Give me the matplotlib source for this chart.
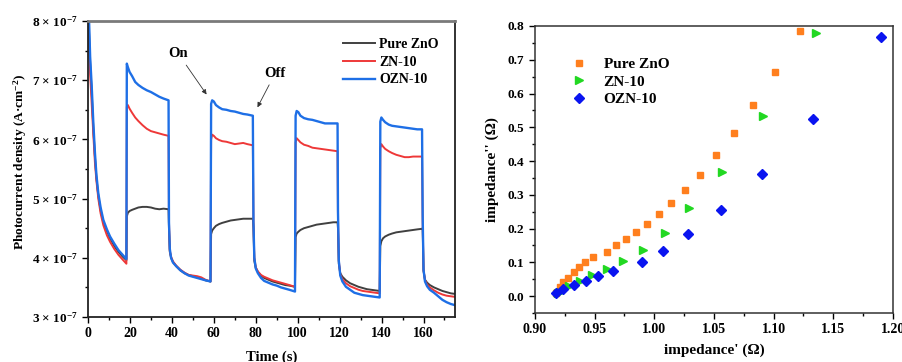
import numpy as np
import matplotlib
matplotlib.use("Agg")
import matplotlib.pyplot as plt
from matplotlib.ticker import MultipleLocator, FixedLocator

plt.rcParams['font.family'] = ['Liberation Serif', 'DejaVu Serif']
plt.rcParams['font.weight'] = 'bold'
plt.rcParams['mathtext.fontset'] = 'custom'
plt.rcParams['mathtext.rm'] = 'Liberation Serif'
plt.rcParams['mathtext.it'] = 'Liberation Serif:italic'
plt.rcParams['mathtext.bf'] = 'Liberation Serif:bold'

# ---- photocurrent (left), values in 1e-7 A/cm2 ----
time_s = [0, 0.5, 1, 1.75, 2.5, 3.3, 4, 4.9, 6, 7.3, 9, 10.5, 12.5, 14.5, 16.5, 18.3,
          18.5, 19.0, 19.8, 21, 22.5, 24, 26, 28, 30, 32, 34, 36, 38.4,
          38.6, 39.0, 39.6, 40.5, 42, 44, 46, 48, 50, 52, 54, 56, 58.4,
          58.7, 59.2, 60, 61, 62.5, 64, 66, 68, 70, 72, 74, 76, 78.6,
          78.9, 79.3, 80, 81, 82.5, 84, 86, 88, 90, 92, 94, 96, 98.7,
          99.0, 99.5, 100.3, 101.3, 103, 105, 107, 109, 111, 113, 115, 117, 119.0,
          119.2, 119.6, 120.3, 121.3, 123, 125, 127, 129, 131, 133, 135, 137, 139.1,
          139.4, 139.9, 140.7, 141.7, 143.4, 145, 147, 149, 151, 153, 155, 157, 159.3,
          159.6, 160.0, 160.7, 161.7, 163, 165, 167, 169, 171, 173, 175]

pure_zno = [8.5, 7.8, 7.3, 6.8, 6.2, 5.7, 5.35, 5.05, 4.8, 4.6, 4.45, 4.33, 4.2, 4.1, 4.02, 3.96,
            4.70, 4.76, 4.79, 4.81, 4.83, 4.85, 4.86, 4.86, 4.85, 4.83, 4.82, 4.83, 4.82,
            4.5, 4.1, 4.0, 3.93, 3.86, 3.79, 3.74, 3.71, 3.69, 3.67, 3.65, 3.62, 3.60,
            4.40, 4.46, 4.50, 4.54, 4.57, 4.59, 4.61, 4.63, 4.64, 4.65, 4.66, 4.66, 4.66,
            4.5, 3.95, 3.83, 3.76, 3.70, 3.66, 3.63, 3.60, 3.58, 3.56, 3.54, 3.53, 3.51,
            4.35, 4.41, 4.44, 4.47, 4.50, 4.52, 4.54, 4.56, 4.57, 4.58, 4.59, 4.60, 4.60,
            4.5, 3.90, 3.74, 3.68, 3.62, 3.57, 3.54, 3.51, 3.49, 3.47, 3.46, 3.45, 3.44,
            4.20, 4.28, 4.33, 4.36, 4.39, 4.41, 4.43, 4.44, 4.45, 4.46, 4.47, 4.48, 4.49,
            4.5, 3.78, 3.63, 3.58, 3.54, 3.50, 3.47, 3.44, 3.42, 3.40, 3.39]

zn_10 = [8.2, 7.6, 7.1, 6.6, 6.1, 5.6, 5.3, 5.0, 4.75, 4.55, 4.38, 4.27, 4.15, 4.05, 3.97, 3.90,
         6.55, 6.58, 6.52, 6.45, 6.37, 6.31, 6.24, 6.18, 6.14, 6.12, 6.10, 6.08, 6.06,
         4.6, 4.12, 4.02, 3.94, 3.87, 3.80, 3.75, 3.71, 3.70, 3.69, 3.67, 3.63, 3.60,
         6.00, 6.08, 6.06, 6.02, 5.99, 5.97, 5.96, 5.94, 5.92, 5.93, 5.94, 5.92, 5.90,
         4.6, 4.0, 3.84, 3.77, 3.71, 3.68, 3.65, 3.62, 3.60, 3.58, 3.56, 3.54, 3.51,
         5.95, 6.02, 5.99, 5.95, 5.91, 5.89, 5.86, 5.85, 5.84, 5.83, 5.82, 5.81, 5.80,
         4.7, 3.95, 3.72, 3.64, 3.57, 3.52, 3.49, 3.46, 3.44, 3.43, 3.42, 3.41, 3.40,
         5.85, 5.92, 5.88, 5.84, 5.80, 5.77, 5.74, 5.72, 5.70, 5.70, 5.71, 5.71, 5.71,
         4.6, 3.80, 3.62, 3.55, 3.50, 3.45, 3.41, 3.38, 3.36, 3.35, 3.34]

ozn_10 = [8.8, 8.0, 7.4, 6.9, 6.3, 5.77, 5.4, 5.09, 4.85, 4.64, 4.48, 4.36, 4.24, 4.13, 4.05, 3.98,
          7.28, 7.22, 7.14, 7.07, 6.97, 6.92, 6.87, 6.83, 6.80, 6.76, 6.72, 6.69, 6.66,
          4.6, 4.15, 4.0, 3.92, 3.86, 3.79, 3.74, 3.70, 3.68, 3.66, 3.64, 3.62, 3.60,
          6.60, 6.66, 6.64, 6.58, 6.54, 6.51, 6.50, 6.48, 6.47, 6.45, 6.43, 6.42, 6.40,
          4.6, 4.0, 3.82, 3.74, 3.66, 3.61, 3.58, 3.55, 3.53, 3.50, 3.48, 3.46, 3.43,
          6.40, 6.48, 6.46, 6.40, 6.36, 6.34, 6.33, 6.31, 6.29, 6.27, 6.27, 6.27, 6.27,
          4.8, 3.95, 3.70, 3.60, 3.51, 3.46, 3.41, 3.39, 3.37, 3.36, 3.35, 3.34, 3.33,
          6.30, 6.37, 6.33, 6.29, 6.25, 6.23, 6.22, 6.21, 6.20, 6.19, 6.18, 6.17, 6.17,
          4.7, 3.80, 3.60, 3.52, 3.46, 3.41, 3.35, 3.29, 3.25, 3.22, 3.20]

# ---- impedance (right) ----
zno_re = [0.9176, 0.9210, 0.9238, 0.9274, 0.9327, 0.9372, 0.9422, 0.9484, 0.9601, 0.9677, 0.9761,
          0.9845, 0.9937, 1.0038, 1.0141, 1.0259, 1.0379, 1.0516, 1.0664, 1.0826, 1.1013, 1.1223]
zno_im = [0.008, 0.026, 0.042, 0.055, 0.072, 0.085, 0.100, 0.115, 0.132, 0.150, 0.170,
          0.190, 0.213, 0.242, 0.275, 0.315, 0.360, 0.417, 0.484, 0.566, 0.665, 0.785]
zn_re = [0.9195, 0.9208, 0.9283, 0.9376, 0.9475, 0.9600, 0.9740, 0.9903, 1.0091, 1.0289, 1.0566, 1.0907, 1.1355]
zn_im = [0.008, 0.013, 0.030, 0.045, 0.062, 0.080, 0.105, 0.138, 0.188, 0.260, 0.369, 0.534, 0.778]
ozn_re = [0.9176, 0.9238, 0.9327, 0.9428, 0.9531, 0.9657, 0.9895, 1.0077, 1.0286, 1.0561, 1.0902, 1.1330, 1.1900]
ozn_im = [0.008, 0.020, 0.033, 0.046, 0.060, 0.075, 0.100, 0.133, 0.183, 0.255, 0.363, 0.525, 0.767]

fig = plt.figure(figsize=(9.02, 3.62), dpi=100)

# ================= left panel =================
ax1 = fig.add_axes([0.0976, 0.1243, 0.4068, 0.8177])
t = np.array(time_s)
ax1.plot(t, np.array(pure_zno) * 1e-7, color='#404040', lw=1.4, label='Pure ZnO')
ax1.plot(t, np.array(zn_10) * 1e-7, color='#ee3838', lw=1.4, label='ZN-10')
ax1.plot(t, np.array(ozn_10) * 1e-7, color='#1e6fe6', lw=1.7, label='OZN-10')
ax1.set_xlim(0, 175)
ax1.set_ylim(3e-7, 8e-7)
ax1.xaxis.set_major_locator(MultipleLocator(20))
ax1.xaxis.set_minor_locator(MultipleLocator(10))
yt = [3e-7, 4e-7, 5e-7, 6e-7, 7e-7, 8e-7]
ax1.yaxis.set_major_locator(FixedLocator(yt))
ax1.yaxis.set_minor_locator(MultipleLocator(0.5e-7))
ax1.set_yticklabels([f'{k} × 10$^{{-7}}$' for k in range(3, 9)])
ax1.tick_params(which='both', direction='out', top=False, right=False, width=1)
ax1.tick_params(axis='x', labelsize=10)
ax1.tick_params(axis='y', labelsize=9.5)
ax1.tick_params(which='major', length=4)
ax1.tick_params(which='minor', length=2.5)
for s in ['left', 'bottom', 'right']:
    ax1.spines[s].set_linewidth(1.3)
    ax1.spines[s].set_color('#222222')
ax1.spines['top'].set_linewidth(2)
ax1.spines['top'].set_color('#7a7a7a')
ax1.set_xlabel('Time (s)', fontsize=10.5, fontweight='bold', labelpad=7)
ax1.set_ylabel('Photocurrent density (A·cm$^{-2}$)', fontsize=9.6, fontweight='bold')
ax1.yaxis.set_label_coords(-0.16, 0.524)
ax1.legend(loc='upper right', bbox_to_anchor=(0.978, 0.97), frameon=False, fontsize=10,
           handlelength=2.3, handletextpad=0.3, labelspacing=0.33, borderaxespad=0.2)

arrow = dict(arrowstyle='-|>', color='#333333', lw=0.6, mutation_scale=7)
ax1.annotate('On', xy=(57.3, 6.72e-7), xytext=(43.0, 7.45e-7), fontsize=10.5,
             ha='center', va='center', arrowprops=arrow)
ax1.annotate('Off', xy=(80.2, 6.50e-7), xytext=(89.3, 7.12e-7), fontsize=10.5,
             ha='center', va='center', arrowprops=arrow)

# ================= right panel =================
ax2 = fig.add_axes([0.5931, 0.1354, 0.3969, 0.7928])
ax2.plot(zno_re, zno_im, ls='none', marker='s', ms=5, color='#ff7f1e', label='Pure ZnO')
ax2.plot(zn_re, zn_im, ls='none', marker='>', ms=6, color='#22d822', label='ZN-10')
ax2.plot(ozn_re, ozn_im, ls='none', marker='D', ms=4.6, color='#0a14f0', label='OZN-10')
ax2.set_xlim(0.90, 1.20)
ax2.set_ylim(-0.05, 0.8)
ax2.xaxis.set_major_locator(MultipleLocator(0.05))
ax2.xaxis.set_minor_locator(MultipleLocator(0.025))
ax2.yaxis.set_major_locator(MultipleLocator(0.1))
ax2.yaxis.set_minor_locator(MultipleLocator(0.05))
ax2.xaxis.set_major_formatter(plt.FormatStrFormatter('%.2f'))
ax2.yaxis.set_major_formatter(plt.FormatStrFormatter('%.1f'))
ax2.tick_params(which='both', direction='out', top=False, right=False, width=1)
ax2.tick_params(axis='x', labelsize=10)
ax2.tick_params(axis='y', labelsize=9.5)
ax2.tick_params(which='major', length=4)
ax2.tick_params(which='minor', length=2.5)
for s in ax2.spines.values():
    s.set_linewidth(1.1)
    s.set_color('#333333')
ax2.set_xlabel("impedance' (Ω)", fontsize=11, fontweight='bold', labelpad=5)
ax2.set_ylabel("impedance'' (Ω)", fontsize=11, fontweight='bold', labelpad=6)
ax2.legend(loc='upper left', bbox_to_anchor=(0.055, 0.922), frameon=False, fontsize=11,
           handletextpad=0.6, labelspacing=0.25, borderaxespad=0.2, numpoints=1)

fig.savefig('out.png', dpi=100)
